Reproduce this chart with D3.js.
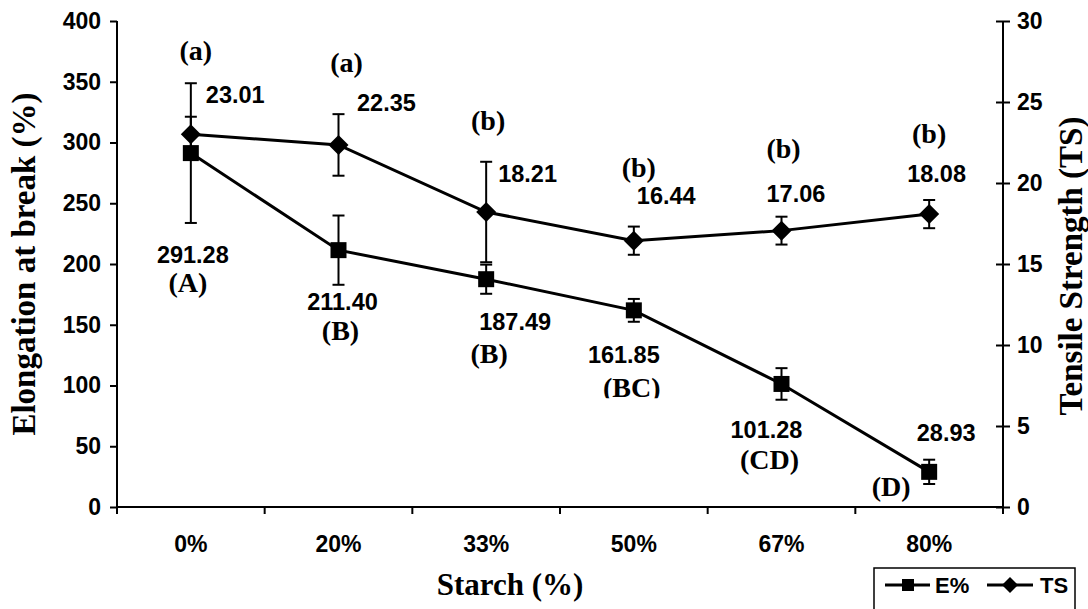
<!DOCTYPE html>
<html><head><meta charset="utf-8">
<script src="https://cdn.jsdelivr.net/npm/d3@7"></script>
<style>body{margin:0;background:#fff}svg{display:block}</style>
</head><body>
<svg id="chart" width="1088" height="609"></svg>
<script>
// ---------- data ----------
const categories = ["0%", "20%", "33%", "50%", "67%", "80%"];
const elongation = [291.28, 211.40, 187.49, 161.85, 101.28, 28.93];
const elongationErr = [57.5, 28.5, 12, 9.4, 13, 10];
const elongationGroups = ["(A)", "(B)", "(B)", "(BC)", "(CD)", "(D)"];
const tensile = [23.01, 22.35, 18.21, 16.44, 17.06, 18.08];
const tensileErr = [1.08, 1.9, 3.1, 0.87, 0.86, 0.87];
const tensileGroups = ["(a)", "(a)", "(b)", "(b)", "(b)", "(b)"];
const leftTicks = [0, 50, 100, 150, 200, 250, 300, 350, 400];
const rightTicks = [0, 5, 10, 15, 20, 25, 30];

// ---------- layout ----------
const L = 117, R = 1003, T = 21, B = 507;
const sans = "'Liberation Sans', Arial, sans-serif";
const serif = "'Liberation Serif', 'Times New Roman', serif";
const svg = d3.select("#chart");

const x = d3.scaleBand().domain(categories).range([L, R]);
const cx = c => x(c) + x.bandwidth() / 2;
const yL = d3.scaleLinear().domain([0, 400]).range([B, T]);
const yR = d3.scaleLinear().domain([0, 30]).range([B, T]);

// axes
const axL = svg.append("g").attr("transform", `translate(${L},0)`)
  .call(d3.axisLeft(yL).tickValues(leftTicks).tickSize(7).tickPadding(9));
const axR = svg.append("g").attr("transform", `translate(${R},0)`)
  .call(d3.axisRight(yR).tickValues(rightTicks).tickSize(7).tickPadding(7));
axR.selectAll(".tick line").attr("x1", -7);
const axB = svg.append("g").attr("transform", `translate(0,${B})`)
  .call(d3.axisBottom(x).tickValues([]).tickSizeOuter(0));
const bounds = categories.map(c => x(c)).concat([R]);
axB.selectAll(".bt").data(bounds).enter().append("line")
  .attr("x1", d => d).attr("x2", d => d).attr("y1", 0).attr("y2", 7)
  .attr("stroke", "#000").attr("stroke-width", 2);
axB.selectAll(".cl").data(categories).enter().append("text")
  .attr("x", d => cx(d)).attr("y", 45).attr("text-anchor", "middle")
  .attr("font-family", sans).attr("font-weight", "bold").attr("font-size", 23)
  .attr("fill", "#000").text(d => d);

[axL, axR, axB].forEach(g => {
  g.selectAll(".domain").attr("stroke", "#000").attr("stroke-width", 2);
  g.selectAll(".tick line").attr("stroke", "#000").attr("stroke-width", 2);
  g.selectAll(".tick text").attr("font-family", sans).attr("font-weight", "bold")
    .attr("font-size", 23).attr("fill", "#000");
});
axL.select(".domain").attr("d", `M0,${T}V${B}`);
axR.select(".domain").attr("d", `M0,${T}V${B}`);
axB.select(".domain").attr("d", `M${L},0H${R}`);

// axis titles
svg.append("text").attr("transform", `translate(35,${(T + B) / 2}) rotate(-90)`)
  .attr("text-anchor", "middle").attr("font-family", serif).attr("font-weight", "bold")
  .attr("font-size", 33).text("Elongation at break (%)");
svg.append("text").attr("transform", `translate(1082,${(T + B) / 2 + 2}) rotate(-90)`)
  .attr("text-anchor", "middle").attr("font-family", serif).attr("font-weight", "bold")
  .attr("font-size", 33).text("Tensile Strength (TS)");
svg.append("text").attr("x", 510).attr("y", 595).attr("text-anchor", "middle")
  .attr("font-family", serif).attr("font-weight", "bold").attr("font-size", 31)
  .text("Starch (%)");

// error bars
function errBars(vals, errs, y) {
  const g = svg.append("g").attr("stroke", "#000").attr("stroke-width", 2);
  vals.forEach((v, i) => {
    const xx = cx(categories[i]);
    g.append("line").attr("x1", xx).attr("x2", xx).attr("y1", y(v + errs[i])).attr("y2", y(v - errs[i]));
    [v + errs[i], v - errs[i]].forEach(e => g.append("line")
      .attr("x1", xx - 6).attr("x2", xx + 6).attr("y1", y(e)).attr("y2", y(e)));
  });
}
errBars(elongation, elongationErr, yL);
errBars(tensile, tensileErr, yR);

// lines
const lineE = d3.line().x((d, i) => cx(categories[i])).y(d => yL(d));
const lineT = d3.line().x((d, i) => cx(categories[i])).y(d => yR(d));
svg.append("path").attr("d", lineE(elongation)).attr("fill", "none").attr("stroke", "#000").attr("stroke-width", 3);
svg.append("path").attr("d", lineT(tensile)).attr("fill", "none").attr("stroke", "#000").attr("stroke-width", 3);

// markers
const sq = d3.symbol().type(d3.symbolSquare).size(256);
function diamondPath(s) { return `M0,${-s}L${s},0L0,${s}L${-s},0Z`; }
svg.selectAll(".sq").data(elongation).enter().append("path")
  .attr("transform", (d, i) => `translate(${cx(categories[i])},${yL(d)})`)
  .attr("d", sq()).attr("fill", "#000");
svg.selectAll(".dm").data(tensile).enter().append("path")
  .attr("transform", (d, i) => `translate(${cx(categories[i])},${yR(d)})`)
  .attr("d", diamondPath(10)).attr("fill", "#000");

// annotations: pixel offsets of labels relative to their data point
const tsValOff = [[15, -31], [18.5, -34], [12, -30], [3, -37], [-15, -29], [-22, -32]];
const tsGrpOff = [[5, -74], [8, -73], [2, -82], [5, -64], [2, -73], [0, -71]];
const eValOff = [[2, 110], [4, 60], [29, 51], [-10, 53], [-15, 54], [17, -31]];
const eGrpOff = [[-3, 139], [2, 90], [3, 84], [-2, 87], [-12, 85], [-38, 24]];

const valTxt = (xx, yy, t, anchor) => svg.append("text").attr("x", xx).attr("y", yy)
  .attr("text-anchor", anchor).attr("font-family", sans).attr("font-weight", "bold")
  .attr("font-size", 23.5).text(t);
const grpTxt = (xx, yy, t) => svg.append("text").attr("x", xx).attr("y", yy)
  .attr("text-anchor", "middle").attr("font-family", serif).attr("font-weight", "bold")
  .attr("font-size", 28).text(t);

tensile.forEach((v, i) => {
  const px = cx(categories[i]), py = yR(v);
  valTxt(px + tsValOff[i][0], py + tsValOff[i][1], v.toFixed(2), "start");
  grpTxt(px + tsGrpOff[i][0], py + tsGrpOff[i][1], tensileGroups[i]);
});
// the (BC) label sits in a text box whose bottom edge crops it
svg.append("clipPath").attr("id", "bcclip").append("rect")
  .attr("x", 0).attr("y", 0).attr("width", 1088).attr("height", yL(elongation[3]) + 88);
elongation.forEach((v, i) => {
  const px = cx(categories[i]), py = yL(v);
  valTxt(px + eValOff[i][0], py + eValOff[i][1], v.toFixed(2), "middle");
  const g = grpTxt(px + eGrpOff[i][0], py + eGrpOff[i][1], elongationGroups[i]);
  if (i === 3) g.attr("clip-path", "url(#bcclip)");
});

// legend
const lg = svg.append("g");
lg.append("rect").attr("x", 874).attr("y", 568).attr("width", 201).attr("height", 60)
  .attr("fill", "#fff").attr("stroke", "#000").attr("stroke-width", 1.5);
lg.append("line").attr("x1", 885).attr("x2", 930).attr("y1", 585).attr("y2", 585).attr("stroke", "#000").attr("stroke-width", 3);
lg.append("path").attr("transform", "translate(908,585)").attr("d", d3.symbol().type(d3.symbolSquare).size(144)()).attr("fill", "#000");
lg.append("text").attr("x", 935).attr("y", 593).attr("font-family", sans).attr("font-weight", "bold").attr("font-size", 22).text("E%");
lg.append("line").attr("x1", 987).attr("x2", 1033).attr("y1", 585).attr("y2", 585).attr("stroke", "#000").attr("stroke-width", 3);
lg.append("path").attr("transform", "translate(1010,585)").attr("d", diamondPath(8)).attr("fill", "#000");
lg.append("text").attr("x", 1040).attr("y", 593).attr("font-family", sans).attr("font-weight", "bold").attr("font-size", 22).text("TS");
</script>
</body></html>
